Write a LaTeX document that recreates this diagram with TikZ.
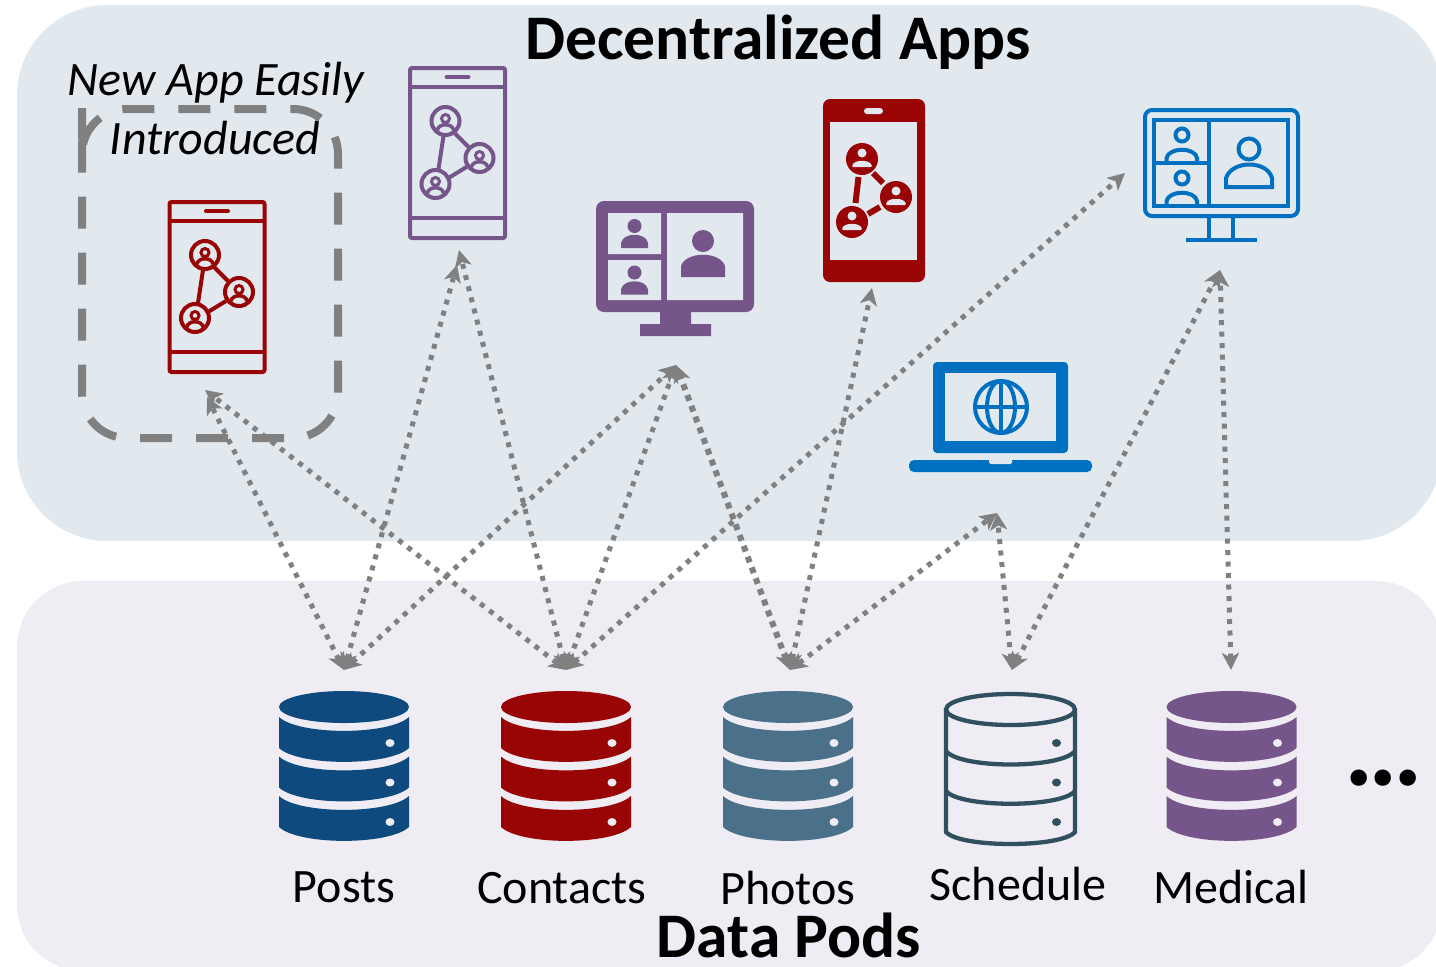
\documentclass[tikz,border=0pt]{standalone}
\usepackage{fontspec}
\setmainfont{Carlito}
\usetikzlibrary{arrows.meta}

\definecolor{appbg}{HTML}{E1E9EF}
\definecolor{podbg}{HTML}{EFECF3}
\definecolor{linkgray}{HTML}{808080}
\definecolor{appred}{HTML}{990404}
\definecolor{apppurple}{HTML}{75558A}
\definecolor{appblue}{HTML}{0070C0}
\definecolor{podnavy}{HTML}{0E4A7D}
\definecolor{podslate}{HTML}{4A7189}
\definecolor{poddark}{HTML}{31505F}

\tikzset{
  podlabel/.style={inner sep=0pt,font=\fontsize{48}{48}\selectfont},
  bigtitle/.style={inner sep=0pt,font=\fontsize{63.5}{63.5}\selectfont\bfseries},
  newapp/.style={inner sep=0pt,font=\fontsize{48}{48}\selectfont\itshape},
  pics/phoneline/.style={code={
    \draw[#1,line width=4pt,rounded corners=2pt] (-47.5,-85) rectangle (47.5,85);
    \draw[#1,line width=4pt] (-47.5,-66) -- (47.5,-66) (-47.5,65) -- (47.5,65);
    \draw[#1,line width=4pt,line cap=round] (-11,-76) -- (11,-76);
    \foreach \cx/\cy in {-12/-32,22/5,-22/31} {
      \draw[#1,line width=4pt] (\cx,\cy) circle (14);
      \draw[#1,line width=3pt] (\cx,\cy-2.5) circle (4);
      \draw[#1,line width=3.5pt] (\cx-8,\cy+9) .. controls (\cx-7,\cy+2) and (\cx+7,\cy+2) .. (\cx+8,\cy+9);
    }
    \draw[#1,line width=4pt] (-14,-17) -- (-19,16) (-3,-20) -- (11,-6) (-9,25) -- (9,14);
  }},
  pics/dbfilled/.style={code={
    \fill[#1] (0,-59.5) ellipse (65 and 16);
    \foreach \dy in {0,39.5,79} {
      \fill[#1] (-65,-49.5+\dy) .. controls (-45,-31+\dy) and (45,-31+\dy) .. (65,-49.5+\dy)
        -- (65,-18.5+\dy) .. controls (45,0+\dy) and (-45,0+\dy) .. (-65,-18.5+\dy) -- cycle;
      \fill[podbg] (46,-23.5+\dy) ellipse (4.5 and 4);
    }
  }}
}

\begin{document}
\begin{tikzpicture}[x=1pt,y=-1pt]
\clip (0,0) rectangle (1436,967);

% backgrounds
\fill[appbg,rounded corners=90pt] (17,5) rectangle (1442,541);
\fill[podbg,rounded corners=66pt] (17,581) rectangle (1442,971);

\node[bigtitle] (apptitle) at (778,42) {Decentralized Apps};
\node[bigtitle] (podtitle) at (789,935) {Data Pods};
\node[newapp] (newline1) at (216,83) {New App Easily};
\node[newapp] (newline2) at (215,138) {Introduced};

\draw[linkgray,line width=8pt,dash pattern=on 32pt off 24pt,rounded corners=45pt]
    (82,153) -- (82,109) -- (338,109) -- (338,438) -- (82,438) -- cycle;

% apps
\pic (phonea) at (217,287) {phoneline=appred};
\pic (phoneb) at (457.5,153) {phoneline=apppurple};

% filled phone
\begin{scope}[shift={(874,191)}]
    \fill[appred,rounded corners=7pt] (-51,-92) rectangle (51,91);
    \fill[appbg] (-44,-69) rectangle (43,69);
    \fill[appbg,rounded corners=3pt] (-10,-83) rectangle (9,-77);
    \foreach \cx/\cy in {-12/-32,22/6,-22/31} {
      \fill[appred] (\cx,\cy) circle (16);
      \fill[appbg] (\cx,\cy-6) circle (4.5);
      \fill[appbg,rounded corners=1pt] (\cx-10,\cy+8) .. controls (\cx-9,\cy) and (\cx+9,\cy) .. (\cx+10,\cy+8) -- cycle;
    }
    \draw[appred,line width=6pt] (-15.5,-14) -- (-18.5,12) (-1,-18) -- (9,-8) (-6,23) -- (6,16);
\end{scope}

% purple monitor
\fill[apppurple,rounded corners=8pt] (596,201) rectangle (754,312);
\fill[apppurple] (660,310) rectangle (691,326) (640,324) rectangle (711,336);
\fill[appbg] (608,213) rectangle (661,254) (608,260) rectangle (661,300) (667,213) rectangle (743,300);
\foreach \py in {226,272.5} {
    \fill[apppurple] (634.5,\py) circle (7);
    \fill[apppurple] (621,\py+22) -- (621,\py+17) .. controls (623,\py+6) and (646,\py+6) .. (648,\py+17) -- (648,\py+22) -- cycle;
}
\fill[apppurple] (703,241) circle (11);
\fill[apppurple] (681,277) -- (681,266) .. controls (686,251) and (720,251) .. (725,266) -- (725,277) -- cycle;

% blue monitor
\begin{scope}[appblue,line width=4pt]
    \draw[rounded corners=7pt] (1145,110) rectangle (1298,216);
    \draw (1154,120) rectangle (1288,206) (1209,120) -- (1209,206) (1154,163) -- (1209,163);
    \draw (1209,217) -- (1209,240) (1233,217) -- (1233,240) (1186,240) -- (1257,240);
    \foreach \py in {135,178} {
      \draw (1182,\py) circle (6.5);
      \draw (1166.5,\py+28) -- (1166.5,\py+23) .. controls (1169,\py+12) and (1195,\py+12) .. (1197,\py+23) -- (1197,\py+28);
    }
    \draw (1249,149) circle (10.5);
    \draw (1226,187) -- (1226,178) .. controls (1232,160) and (1267,160) .. (1272,178) -- (1272,187) -- cycle;
\end{scope}

% laptop
\fill[appblue,rounded corners=4pt] (933,453) -- (933,362) -- (1068,362) -- (1068,453) -- cycle;
\fill[appbg] (945,373) rectangle (1056,441);
\fill[appblue,rounded corners=5pt] (909,460) -- (909,472) -- (1092,472) -- (1092,460) -- cycle;
\fill[appbg,rounded corners=1.5pt] (989,459) -- (989,464) -- (1012,464) -- (1012,459) -- cycle;
\begin{scope}[appblue,line width=4pt]
    \draw (1001,407) circle (26);
    \draw (1001,407) ellipse (14 and 26);
    \draw (1001,381) -- (1001,433) (975,407) -- (1027,407);
\end{scope}

% pods
\pic (posts) at (344,766.5) {dbfilled=podnavy};
\pic (contacts) at (566,766.5) {dbfilled=appred};
\pic (photos) at (788,766.5) {dbfilled=podslate};
\pic (medical) at (1231.5,766.5) {dbfilled=apppurple};

% outlined pod
\begin{scope}[poddark,line width=4.3pt]
    \draw (1010.5,709.5) ellipse (64.5 and 15.5);
    \draw (946,709.5) -- (946,832) .. controls (960,848) and (1061,848) .. (1075,832) -- (1075,709.5);
    \draw (946,751) .. controls (960,769) and (1061,769) .. (1075,751);
    \draw (946,791) .. controls (960,808) and (1061,808) .. (1075,791);
\end{scope}
\foreach \py in {743,782.5,822} \fill[poddark] (1056.5,\py) ellipse (4.5 and 4);

\node[podlabel] (postslabel) at (344,887) {Posts};
\node[podlabel] (contactslabel) at (562,888) {Contacts};
\node[podlabel] (photoslabel) at (788,888) {Photos};
\node[podlabel] (schedulelabel) at (1018,884) {Schedule};
\node[podlabel] (medicallabel) at (1231,887) {Medical};
\node[inner sep=0pt,font=\fontsize{110}{110}\selectfont\bfseries,anchor=base] (moredots) at (1383.5,785) {.\kern-5pt.\kern-5pt.};

% link ends
\coordinate (postsend) at (344,670);
\coordinate (contactsend) at (566,670);
\coordinate (photosend) at (790,670);
\coordinate (scheduleend) at (1012,670);
\coordinate (medicalend) at (1231,670);
\coordinate (newappa) at (205,390);
\coordinate (newappb) at (207,397);
\coordinate (phoneba) at (459,250);
\coordinate (phonebb) at (457,265);
\coordinate (monitora) at (676,365);
\coordinate (phonec) at (872,288);
\coordinate (monitorb) at (1125,173);
\coordinate (monitorc) at (1220,270);
\coordinate (laptop) at (997,513);

\begin{scope}[>={Stealth[length=17pt,width=17pt,inset=4.5pt]},
              every edge/.style={draw,linkgray,line width=5pt,dash pattern=on 5pt off 6.5pt}]
    \path [<->] (postsend) edge (newappb);
    \path [<->] (postsend) edge (phonebb);
    \path [<->] (postsend) edge (monitora);
    \path [<->] (contactsend) edge (newappa);
    \path [<->] (contactsend) edge (phoneba);
    \path [<->] (contactsend) edge (monitora);
    \path [<->] (contactsend) edge (monitorb);
    \path [<->] (photosend) edge[line width=6pt,dash pattern=on 6pt off 5.5pt] (monitora);
    \path [<->] (photosend) edge (phonec);
    \path [<->] (photosend) edge (laptop);
    \path [<->] (scheduleend) edge (laptop);
    \path [<->] (scheduleend) edge (monitorc);
    \path [<->] (medicalend) edge (monitorc);
\end{scope}
\end{tikzpicture}
\end{document}
